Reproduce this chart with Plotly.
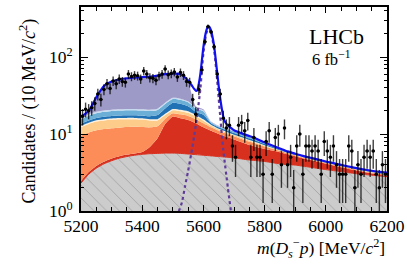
import numpy as np
import plotly.graph_objects as go

# ---------------- data ----------------
mass_grid = [5200, 5225, 5250, 5275, 5300, 5325, 5350, 5375, 5400, 5425, 5450, 5475, 5500,
             5525, 5550, 5575, 5600, 5625, 5650, 5675, 5700, 5725, 5750, 5775, 5800, 5825,
             5850, 5875, 5900, 5925, 5950, 5975, 6000, 6025, 6050, 6075, 6100, 6125, 6150,
             6175, 6200]

# cumulative (stacked) upper edges of each fit component
comb_top = [2.3, 3.0, 3.6, 4.1, 4.5, 4.85, 5.1, 5.3, 5.45, 5.55, 5.6, 5.65, 5.65,
            5.6, 5.5, 5.4, 5.3, 5.2, 5.1, 5.0, 4.9, 4.75, 4.6, 4.5, 4.4, 4.25,
            4.1, 4.0, 3.95, 3.82, 3.7, 3.57, 3.45, 3.35, 3.25, 3.15, 3.05, 2.98, 2.92,
            2.86, 2.8]
red_top = [2.45, 3.2, 3.85, 4.35, 4.8, 5.15, 5.4, 5.6, 5.85, 6.8, 8.8, 13.5, 16.8,
           16.0, 15.2, 13.8, 12.2, 11.0, 10.0, 9.2, 8.5, 7.8, 7.2, 6.8, 6.4, 6.1,
           5.8, 5.45, 5.15, 4.85, 4.6, 4.35, 4.1, 3.9, 3.7, 3.52, 3.35, 3.2, 3.07,
           2.96, 2.87]
orange_top = [9.5, 10.5, 11.2, 11.6, 11.9, 12.1, 12.3, 12.4, 12.3, 12.2, 12.6, 15.8, 18.6,
              18.0, 17.2, 15.6, 13.8, 12.2, 11.0, 10.1, 9.38, 8.64, 7.97, 7.43, 6.89, 6.45,
              6.05, 5.63, 5.29, 4.97, 4.71, 4.46, 4.21, 4.0, 3.79, 3.61, 3.44, 3.29, 3.16,
              3.05, 2.97]
peach_top = [12.3, 13.5, 14.5, 15.0, 15.3, 15.5, 15.6, 15.6, 15.4, 15.0, 15.0, 17.6, 20.3,
             19.8, 18.9, 17.0, 14.9, 12.9, 11.5, 10.5, 9.68, 8.93, 8.23, 7.65, 7.06, 6.57,
             6.13, 5.69, 5.34, 5.01, 4.75, 4.49, 4.24, 4.03, 3.83, 3.64, 3.47, 3.32, 3.19,
             3.09, 3.0]
cream_top = [12.8, 14.0, 15.1, 15.6, 15.9, 16.1, 16.2, 16.2, 16.0, 15.6, 15.6, 18.3, 21.1,
             20.6, 19.7, 17.7, 15.5, 13.2, 11.7, 10.7, 9.8, 9.05, 8.34, 7.74, 7.13, 6.62,
             6.16, 5.71, 5.36, 5.03, 4.77, 4.51, 4.26, 4.05, 3.84, 3.66, 3.49, 3.34, 3.21,
             3.1, 3.02]
darkblue_top = [13.6, 15.0, 16.2, 16.8, 17.2, 17.4, 17.5, 17.5, 17.3, 17.0, 17.6, 21.5, 25.5,
                24.8, 23.0, 19.5, 17.8, 13.8, 12.2, 11.2, 10.3, 9.53, 8.78, 8.1, 7.41, 6.82,
                6.3, 5.81, 5.44, 5.1, 4.83, 4.57, 4.32, 4.1, 3.89, 3.71, 3.54, 3.39, 3.26,
                3.15, 3.07]
lightblue_top = [15.6, 17.3, 18.6, 19.4, 19.9, 20.2, 20.4, 20.4, 20.2, 19.9, 20.5, 24.5, 28.5,
                 27.8, 25.8, 21.5, 19.8, 14.2, 12.55, 11.6, 10.75, 9.96, 9.18, 8.42, 7.66, 7.0,
                 6.43, 5.9, 5.51, 5.17, 4.89, 4.62, 4.37, 4.15, 3.94, 3.75, 3.58, 3.43, 3.3,
                 3.2, 3.12]
paleblue_top = [16.2, 18.0, 19.4, 20.2, 20.7, 21.0, 21.2, 21.2, 21.0, 20.7, 21.3, 25.4, 29.5,
                28.8, 26.6, 22.0, 20.4, 14.35, 12.7, 11.7, 10.88, 10.08, 9.29, 8.51, 7.73, 7.05,
                6.47, 5.93, 5.53, 5.18, 4.9, 4.64, 4.39, 4.17, 3.96, 3.77, 3.6, 3.45, 3.32,
                3.22, 3.14]
lavender_top = [16.8, 20.0, 30.0, 42.0, 48.0, 51.0, 53.0, 54.0, 55.0, 55.5, 57.5, 60.0, 61.0,
                60.0, 47.0, 23.0, 21.0, 14.5, 12.8, 11.8, 11.0, 10.2, 9.4, 8.6, 7.8, 7.1,
                6.5, 5.95, 5.55, 5.2, 4.92, 4.65, 4.4, 4.18, 3.97, 3.78, 3.61, 3.46, 3.33,
                3.23, 3.15]

# total fit curve
total_mass = [5200, 5225, 5250, 5275, 5300, 5325, 5350, 5375, 5400, 5425, 5450, 5475, 5500,
              5525, 5550, 5560, 5570, 5575, 5580, 5585, 5590, 5595, 5600, 5605, 5610, 5615,
              5620, 5625, 5630, 5635, 5640, 5645, 5650, 5655, 5660, 5665, 5670, 5680, 5690,
              5700, 5725, 5750, 5775, 5800, 5825, 5850, 5875, 5900, 5925, 5950, 5975, 6000,
              6025, 6050, 6075, 6100, 6125, 6150, 6175, 6200]
total_fit = [16.8, 20.0, 30.0, 42.0, 48.0, 51.0, 53.0, 54.0, 55.0, 55.5, 57.5, 60.0, 61.0,
             60.2, 49.5, 44.0, 38.5, 36.5, 37.0, 45.0, 60.0, 90.0, 134.0, 182.0, 224.0, 250.0,
             246.0, 220.0, 181.0, 140.0, 95.0, 63.0, 42.0, 29.0, 21.5, 16.8, 14.5, 12.9, 12.0,
             11.2, 10.2, 9.4, 8.6, 7.8, 7.1, 6.5, 5.95, 5.55, 5.2, 4.92, 4.65, 4.4,
             4.18, 3.97, 3.78, 3.61, 3.46, 3.33, 3.23, 3.15]

# signal component (dotted)
signal_mass = [5500, 5510, 5520, 5530, 5540, 5550, 5560, 5570, 5575, 5580, 5585, 5590, 5595,
               5600, 5605, 5610, 5615, 5620, 5625, 5630, 5635, 5640, 5645, 5650, 5655, 5660,
               5665, 5670, 5675, 5680, 5685, 5690, 5695, 5700]
signal_fit = [0.6, 0.8, 1.0, 1.3, 2.1, 3.3, 5.5, 9.5, 13.0, 18.0, 26.0, 38.0, 68.0,
              113.0, 162.0, 205.0, 232.0, 230.0, 206.0, 167.0, 126.0, 82.0, 50.0, 29.0, 17.0, 9.8,
              6.2, 4.2, 2.9, 2.0, 1.4, 0.98, 0.7, 0.5]

# data (10 MeV bins)
bin_centers = [5205 + 10 * i for i in range(100)]
counts = [17, 21, 20, 22, 25, 33, 28, 38, 45, 39,
          49, 45, 52, 48, 47, 60, 56, 58, 57, 52,
          66, 60, 54, 53, 50, 57, 60, 70, 59, 61,
          64, 55, 63, 58, 48, 47, 28, 18, 38, 68,
          158, 248, 212, 136, 60, 33, 16, 12, 13, 7,
          5, 13, 14, 11, 15, 5, 9, 5, 5, 3,
          8, 11, 3, 9, 10, 4, 12, 4, 5, 2,
          7, 10, 3, 7, 7, 6, 7, 6, 3, 8,
          6, 5, 7, 4, 3, 3, 3, 7, 6, 2,
          4, 3, 5, 6, 5, 6, 3, 2, 4, 3]
count_err = list(np.sqrt(counts))

x_ticks = [5200, 5400, 5600, 5800, 6000, 6200]
x_ticktext = ["5200", "5400", "5600", "5800", "6000", "6200"]
y_ticks = [1, 10, 100]
y_ticktext = ["10<sup>0</sup>", "10<sup>1</sup>", "10<sup>2</sup>"]
y_minor = [2, 3, 4, 5, 6, 7, 8, 9, 20, 30, 40, 50, 60, 70, 80, 90, 200, 300, 400]

# ---------------- figure ----------------
FONT = "Liberation Serif"
fig = go.Figure()

layers = [
    (comb_top, "#cccccc"),
    (red_top, "#d7301f"),
    (orange_top, "#fc8d59"),
    (peach_top, "#fdcc8a"),
    (cream_top, "#fef0d9"),
    (darkblue_top, "#2171b5"),
    (lightblue_top, "#6baed6"),
    (paleblue_top, "#c6dbef"),
    (lavender_top, "#9e9ac8"),
]
for i, (vals, col) in enumerate(layers):
    kw = dict(x=mass_grid, y=vals, mode="lines", line=dict(width=0, shape="spline", smoothing=0.6),
              fillcolor=col, hoverinfo="skip", showlegend=False)
    if i == 0:
        kw["fill"] = "tozeroy"
        kw["fillpattern"] = dict(shape="\\", bgcolor="#cccccc", fgcolor="#9a9a9a",
                                 size=9, solidity=0.08, fillmode="replace")
    else:
        kw["fill"] = "tonexty"
    fig.add_trace(go.Scatter(**kw))

# red edge on the combinatorial
fig.add_trace(go.Scatter(x=mass_grid, y=comb_top, mode="lines",
                         line=dict(color="#d7301f", width=1, shape="spline", smoothing=0.6),
                         hoverinfo="skip", showlegend=False))

fig.add_trace(go.Scatter(x=signal_mass, y=signal_fit, mode="lines",
                         line=dict(color="#5e3c99", width=2.2, dash="dot", shape="spline", smoothing=0.6),
                         hoverinfo="skip", showlegend=False))

fig.add_trace(go.Scatter(x=total_mass, y=total_fit, mode="lines",
                         line=dict(color="#1010f0", width=2.2, shape="spline", smoothing=0.6),
                         hoverinfo="skip", showlegend=False))

fig.add_trace(go.Scatter(x=bin_centers, y=counts, mode="markers",
                         marker=dict(color="black", size=3.5),
                         error_y=dict(type="data", array=count_err, color="rgba(0,0,0,0.75)",
                                      thickness=1.4, width=0),
                         error_x=dict(type="constant", value=5, color="black", thickness=1.2, width=0),
                         hoverinfo="skip", showlegend=False))

axis_common = dict(showline=True, linecolor="black", linewidth=1.6, mirror="ticks",
                   ticks="inside", tickcolor="black", tickwidth=1.2, showgrid=False, zeroline=False,
                   automargin=False,
                   tickfont=dict(family=FONT, size=17.5, color="black"))

fig.update_xaxes(range=[5200, 6200], tickvals=x_ticks, ticktext=x_ticktext, ticklen=6,
                 ticklabelstandoff=-2,
                 minor=dict(ticks="inside", dtick=50, tick0=5200, ticklen=4, tickcolor="black", tickwidth=1),
                 **axis_common)
fig.update_yaxes(type="log", range=[0, 2.65], tickvals=y_ticks, ticktext=y_ticktext, ticklen=7,
                 ticklabelstandoff=3,
                 minor=dict(ticks="inside", tickvals=y_minor, ticklen=3.5, tickcolor="black", tickwidth=1),
                 **axis_common)

fig.add_annotation(text="LHCb", x=0.933, y=0.925, xref="paper", yref="paper",
                   xanchor="right", yanchor="top", showarrow=False,
                   font=dict(family=FONT, size=22, color="black"))
fig.add_annotation(text="6 fb<sup>−1</sup>", x=0.748, y=0.81, xref="paper", yref="paper",
                   xanchor="left", yanchor="top", showarrow=False,
                   font=dict(family=FONT, size=16.5, color="black"))
fig.add_annotation(text="<i>m</i>(<i>D</i><sub><i>s</i></sub><sup>−</sup><i>p</i>) [MeV/<i>c</i><sup>2</sup>]",
                   x=1.0, y=-0.112, xref="paper", yref="paper", xanchor="right", yanchor="top",
                   showarrow=False, font=dict(family=FONT, size=17.5, color="black"))
fig.add_annotation(text="Candidates / (10 MeV/<i>c</i><sup>2</sup>)",
                   x=-0.172, y=0.49, xref="paper", yref="paper", xanchor="center", yanchor="middle",
                   textangle=-90, showarrow=False, font=dict(family=FONT, size=18, color="black"))

fig.update_layout(width=407, height=265, margin=dict(l=81, r=20, t=7, b=54),
                  paper_bgcolor="white", plot_bgcolor="white", showlegend=False)

fig.write_html("out.html", post_script="document.body.style.margin='0';",
               config={"displayModeBar": False})
